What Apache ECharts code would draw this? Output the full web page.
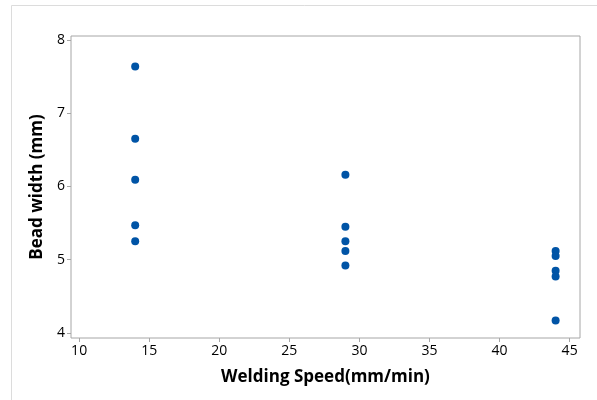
<!DOCTYPE html>
<html>
<head>
<meta charset="utf-8">
<script src="https://cdn.jsdelivr.net/npm/echarts@6/dist/echarts.min.js"></script>
<style>html,body{margin:0;padding:0;background:#fff;}#c{width:597px;height:400px;}</style>
</head>
<body>
<div id="c"></div>
<script>
var speeds = [14, 14, 14, 14, 14, 29, 29, 29, 29, 29, 44, 44, 44, 44, 44];
var widths = [7.64, 6.65, 6.09, 5.47, 5.25, 6.16, 5.45, 5.25, 5.12, 4.92, 5.12, 5.05, 4.85, 4.77, 4.17];
var xTicks = [10, 15, 20, 25, 30, 35, 40, 45];
var yTicks = [4, 5, 6, 7, 8];

var points = speeds.map(function (s, i) { return [s, widths[i]]; });
var font = '"Open Sans", "Noto Sans", sans-serif';
var chart = echarts.init(document.getElementById('c'));
chart.setOption({
  animation: false,
  backgroundColor: '#fff',
  graphic: [{
    type: 'rect', silent: true, z: -10,
    shape: { x: 11.5, y: 5.5, width: 600, height: 400 },
    style: { fill: 'none', stroke: '#dcdcdc', lineWidth: 1 }
  }],
  grid: {
    left: 71, right: 17, top: 36, bottom: 62,
    show: true, borderColor: '#a6a6a6', borderWidth: 1, backgroundColor: 'transparent'
  },
  xAxis: {
    type: 'value', min: 9.42, max: 45.74,
    name: 'Welding Speed(mm/min)', nameLocation: 'middle', nameGap: 31,
    nameTextStyle: { fontFamily: font, fontSize: 17, fontWeight: 'bold', color: '#000' },
    axisLine: { show: false },
    axisTick: { show: true, length: 4, lineStyle: { color: '#a6a6a6' }, customValues: xTicks },
    axisLabel: { fontFamily: font, fontSize: 14, color: '#000', margin: 6, customValues: xTicks },
    splitLine: { show: false }
  },
  yAxis: {
    type: 'value', min: 3.93, max: 8.055,
    name: 'Bead width (mm)', nameLocation: 'middle', nameGap: 25,
    nameTextStyle: { fontFamily: font, fontSize: 17, fontWeight: 'bold', color: '#000' },
    axisLine: { show: false },
    axisTick: { show: true, length: 4, lineStyle: { color: '#a6a6a6' }, customValues: yTicks },
    axisLabel: { fontFamily: font, fontSize: 14, color: '#000', margin: 6, customValues: yTicks },
    splitLine: { show: false }
  },
  series: [{
    type: 'scatter',
    data: points,
    symbol: 'circle',
    symbolSize: 8,
    itemStyle: { color: '#0054A6', opacity: 1 }
  }]
});
</script>
</body>
</html>
